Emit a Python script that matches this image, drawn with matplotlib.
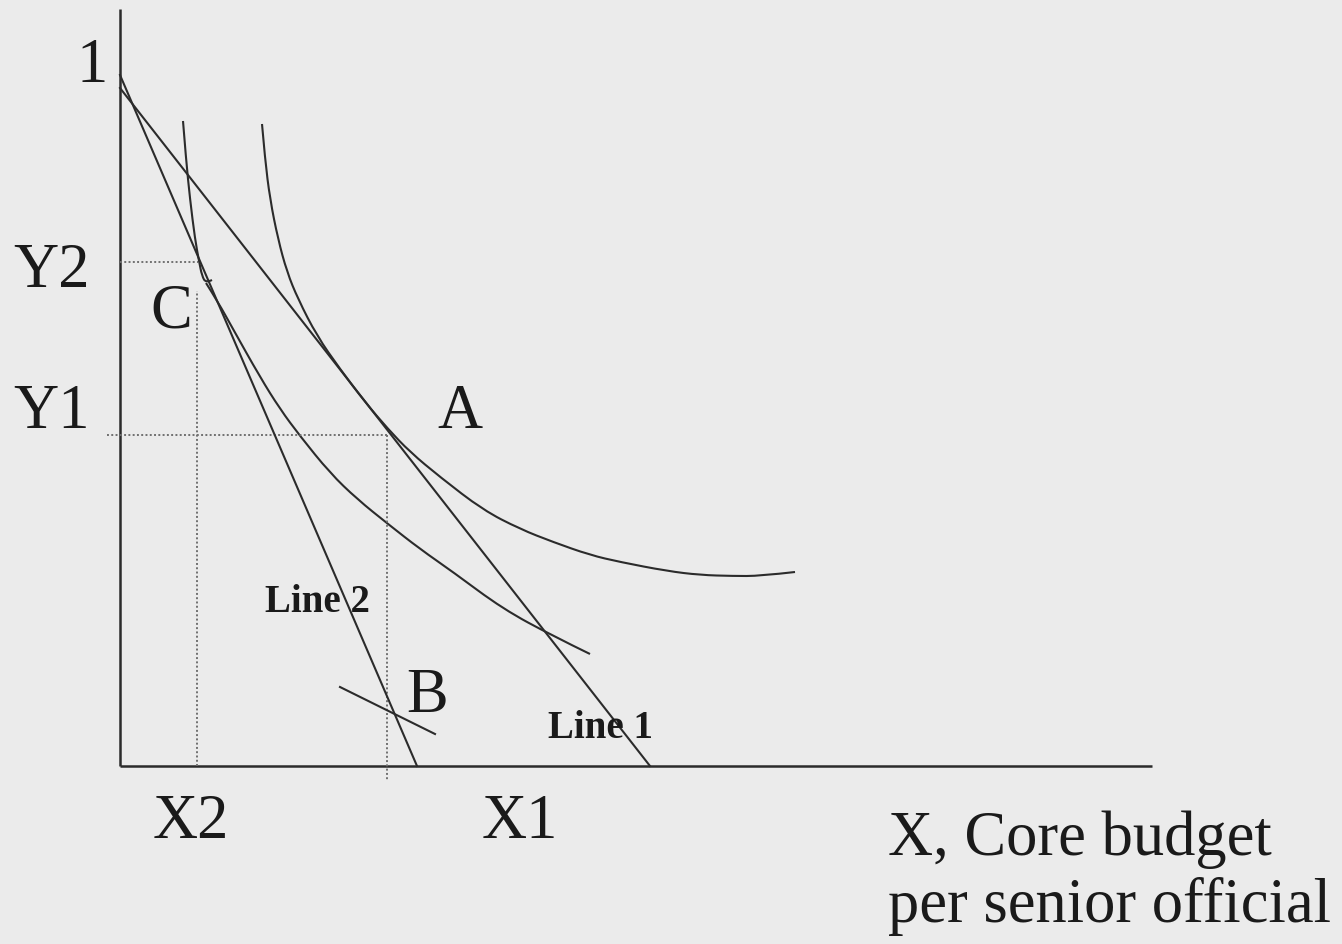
import matplotlib
matplotlib.use("Agg")
import matplotlib.pyplot as plt
from matplotlib.path import Path
from matplotlib.patches import PathPatch

# diagram units: origin at the axis corner, x to the right, y up
AXIS_X_END = 1032
AXIS_Y_END = 757

# budget lines, (x, y) at the two intercepts
line1 = [(0, 678), (530, 0)]
line2 = [(0, 691), (297, 0)]

# outer indifference curve, tangent to Line 1 at A
curve1_x = [142, 145, 150, 158, 167, 178, 197, 220, 245, 268, 290, 320, 363,
            400, 433, 470, 500, 547, 580, 613, 640, 675]
curve1_y = [642, 607, 567, 527, 494, 467, 430, 397, 364, 337, 314, 289, 256,
            237, 224, 211, 204, 195, 191, 190, 190, 194]

# inner indifference curve, tangent to Line 2 at C (upper arm ends in a small hook)
curve2_upper_x = [63, 66, 70, 75, 79, 82, 86, 92]
curve2_upper_y = [645, 607, 567, 527, 505, 490, 483, 486]
curve2_lower_x = [86, 98, 113, 140, 160, 180, 210, 237, 268, 300, 333, 383, 433, 470]
curve2_lower_y = [483, 464, 437, 389, 357, 330, 293, 267, 242, 217, 194, 157, 130, 112]

# short curve segment through B
curve_b = [(220, 79), (315, 32)]

# projections of the points A and C onto the axes
x1_val, y1_val = 267, 331
x2_val, y2_val = 77, 504
x2_top = 475

tick_labels = {"1": (-28, 685), "Y2": (-107, 480), "Y1": (-107, 339),
               "X2": (71, -71), "X1": (400, -71)}
point_labels = {"C": (51, 439), "A": (340, 339), "B": (307, 55)}
line_labels = {"Line 2": (145, 155), "Line 1": (428, 29)}
x_title = ["X, Core budget", "per senior official"]

BG = "#ebebeb"
INK = "#2b2b2b"
SERIF = "Liberation Serif"


def smooth_curve(ax, xs, ys, **kw):
    """Quadratic Bezier through the midpoints, using the points as controls."""
    pts = list(zip(xs, ys))
    verts = [pts[0]]
    codes = [Path.MOVETO]
    for i in range(1, len(pts) - 1):
        mid = ((pts[i][0] + pts[i + 1][0]) / 2, (pts[i][1] + pts[i + 1][1]) / 2)
        if i == len(pts) - 2:
            mid = pts[-1]
        verts += [pts[i], mid]
        codes += [Path.CURVE3, Path.CURVE3]
    if len(pts) == 2:
        verts.append(pts[1])
        codes.append(Path.LINETO)
    ax.add_patch(PathPatch(Path(verts, codes), fill=False, **kw))


fig = plt.figure(figsize=(13.42, 9.45), dpi=100, facecolor=BG)
ax = fig.add_axes([0, 0, 1, 1])
ax.set_facecolor(BG)
ax.set_xlim(-120, 1222)
ax.set_ylim(-178, 767)
ax.axis("off")

# axes of the diagram
ax.plot([0, 0], [0, AXIS_Y_END], color=INK, lw=1.8, solid_capstyle="butt")
ax.plot([0, AXIS_X_END], [0, 0], color=INK, lw=1.8, solid_capstyle="butt")

# guide lines
dot = dict(color="#707070", lw=1.4, linestyle=(0, (1, 1.2)))
ax.plot([-13, x1_val], [y1_val, y1_val], **dot)
ax.plot([x1_val, x1_val], [y1_val, -15], **dot)
ax.plot([0, x2_val + 1], [y2_val, y2_val], **dot)
ax.plot([x2_val, x2_val], [0, x2_top], **dot)

# budget lines and curves
for seg in (line1, line2, curve_b):
    xs, ys = zip(*seg)
    ax.plot(xs, ys, color=INK, lw=1.5)
curve_style = dict(edgecolor=INK, lw=1.5)
smooth_curve(ax, curve1_x, curve1_y, **curve_style)
smooth_curve(ax, curve2_upper_x, curve2_upper_y, **curve_style)
smooth_curve(ax, curve2_lower_x, curve2_lower_y, **curve_style)

big = dict(family=SERIF, fontsize=45, color="#1a1a1a", va="baseline")
for txt, (x, y) in tick_labels.items():
    ha = "left" if txt.startswith("Y") else "center"
    ax.text(x, y, txt, ha=ha, **big)
for txt, (x, y) in point_labels.items():
    ax.text(x, y, txt, ha="center", **big)
for txt, (x, y) in line_labels.items():
    ax.text(x, y, txt, ha="left", va="baseline", family=SERIF,
            fontsize=28, fontweight="bold", color="#1a1a1a")

ax.text(768, -88, x_title[0], ha="left", **big)
ax.text(768, -155, x_title[1], ha="left", **big)

fig.savefig("out.png", dpi=100, facecolor=BG)
